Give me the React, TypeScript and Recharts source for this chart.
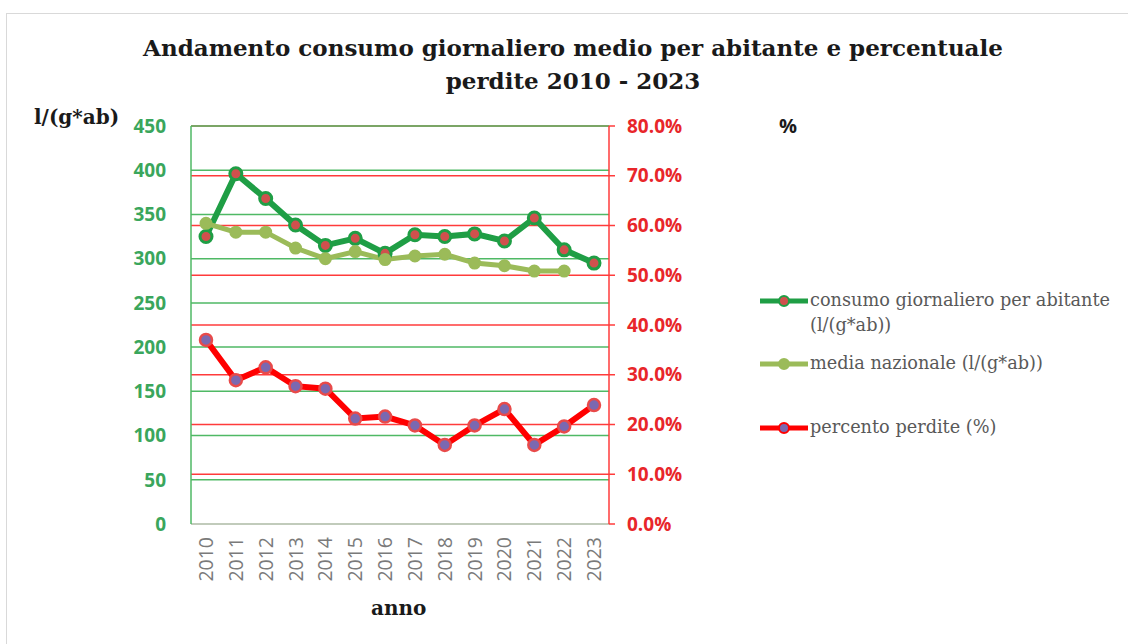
import React from 'react';
import { LineChart, Line, XAxis, YAxis, CartesianGrid } from 'recharts';

const years = ['2010', '2011', '2012', '2013', '2014', '2015', '2016', '2017', '2018', '2019', '2020', '2021', '2022', '2023'];
const consumo = [325, 396, 368, 338, 315, 323, 306, 327, 325, 328, 320, 346, 310, 295];
const mediaNazionale = [340, 330, 330, 312, 300, 308, 299, 303, 305, 295, 292, 286, 286, null];
const perdite = [37.0, 28.9, 31.5, 27.7, 27.2, 21.2, 21.6, 19.8, 15.9, 19.8, 23.1, 15.9, 19.6, 23.9];

const leftTicks = [0, 50, 100, 150, 200, 250, 300, 350, 400, 450];
const rightTicks = [0, 10, 20, 30, 40, 50, 60, 70, 80];

const data = years.map((anno, i) => ({
  anno,
  consumo: consumo[i],
  media: mediaNazionale[i],
  perdite: perdite[i],
}));

const GREEN = '#1f9e45';
const LIGHT_GREEN = '#9bbb59';
const RED = '#ff0000';
const AXIS_GREEN = '#3aa65c';
const AXIS_RED = '#e8262a';

const legendItems = [
  { label: ['consumo giornaliero per abitante', '(l/(g*ab))'], line: GREEN, dot: '#d0504d', top: 0 },
  { label: ['media nazionale (l/(g*ab))'], line: LIGHT_GREEN, dot: LIGHT_GREEN, top: 63 },
  { label: ['percento perdite (%)'], line: RED, dot: '#7b68b0', top: 127 },
];

const XTick = ({ x, y, payload }: any) => (
  <g transform={`translate(${x},${y + 5}) rotate(-90)`}>
    <text x={0} y={0} dy="0.36em" textAnchor="end" fill="#7a7a7a" fontSize={19.5} fontFamily="'Open Sans', sans-serif">
      {payload.value}
    </text>
  </g>
);

// legend drawn as plain html so it does not eat into the plot area
const ChartLegend = () => (
  <div style={{ position: 'absolute', left: 758, top: 288, width: 370, height: 160 }}>
    {legendItems.map((item) => (
      <div key={item.label[0]} style={{ position: 'absolute', left: 0, top: item.top, display: 'flex', alignItems: 'flex-start' }}>
        <svg width={52} height={20} style={{ marginTop: 3, flex: 'none' }}>
          <line x1={2} y1={10} x2={50} y2={10} stroke={item.line} strokeWidth={5} />
          <circle cx={26} cy={10} r={5} fill={item.dot} stroke={item.line} strokeWidth={2} />
        </svg>
        <div style={{ fontFamily: "'DejaVu Serif', serif", fontSize: 17.7, color: '#595959', lineHeight: '25px', whiteSpace: 'nowrap' }}>
          {item.label.map((l) => (
            <div key={l}>{l}</div>
          ))}
        </div>
      </div>
    ))}
  </div>
);

export default function App() {
  return (
    <div style={{ position: 'absolute', left: 0, top: 0, width: 1128, height: 644, background: '#fff', overflow: 'hidden' }}>
      <div style={{ position: 'absolute', left: 6, top: 13, width: 1130, height: 640, border: '1px solid #d9d9d9' }} />

      <div
        style={{
          position: 'absolute',
          left: 0,
          top: 31,
          width: 1146,
          textAlign: 'center',
          fontFamily: "'DejaVu Serif', serif",
          fontWeight: 'bold',
          fontSize: 23,
          lineHeight: '33px',
          color: '#1a1a1a',
        }}
      >
        Andamento consumo giornaliero medio per abitante e percentuale
        <br />
        perdite 2010 - 2023
      </div>

      <div style={{ position: 'absolute', left: 34, top: 105, fontFamily: "'DejaVu Serif', serif", fontWeight: 'bold', fontSize: 20, color: '#1a1a1a' }}>
        l/(g*ab)
      </div>
      <div style={{ position: 'absolute', left: 779, top: 112, fontFamily: "'Open Sans', sans-serif", fontWeight: 'bold', fontSize: 20, color: '#1a1a1a' }}>
        %
      </div>
      <div style={{ position: 'absolute', left: 371, top: 596, fontFamily: "'DejaVu Serif', serif", fontWeight: 'bold', fontSize: 20, color: '#1a1a1a' }}>
        anno
      </div>

      <ChartLegend />

      <LineChart width={1128} height={644} data={data} margin={{ top: 126, right: 429, left: 111, bottom: 50 }}>
        <CartesianGrid yAxisId="right" vertical={false} stroke="#ff3b3b" strokeWidth={1.5} horizontalValues={rightTicks} />
        <CartesianGrid yAxisId="left" vertical={false} stroke="#4fb965" strokeWidth={1.5} horizontalValues={leftTicks} />
        <XAxis
          dataKey="anno"
          interval={0}
          padding={{ left: 15, right: 15 }}
          height={70}
          tick={<XTick />}
          tickLine={false}
          axisLine={{ stroke: '#d9d9d9', strokeWidth: 1.5 }}
        />
        <YAxis
          yAxisId="left"
          domain={[0, 450]}
          ticks={leftTicks}
          width={80}
          tickLine={false}
          tickMargin={19}
          axisLine={{ stroke: '#4fb965', strokeWidth: 1.5 }}
          tick={{ fill: AXIS_GREEN, fontSize: 19, fontWeight: 'bold', fontFamily: "'Open Sans', sans-serif" }}
        />
        <YAxis
          yAxisId="right"
          orientation="right"
          domain={[0, 80]}
          ticks={rightTicks}
          width={90}
          tickSize={6}
          tickMargin={12}
          tickFormatter={(v: number) => `${v.toFixed(1)}%`}
          axisLine={{ stroke: '#ff3b3b', strokeWidth: 1.5 }}
          tickLine={{ stroke: '#ff3b3b', strokeWidth: 1.5 }}
          tick={{ fill: AXIS_RED, fontSize: 19, fontWeight: 'bold', fontFamily: "'Open Sans', sans-serif" }}
        />
        <Line
          yAxisId="left"
          dataKey="consumo"
          name="consumo giornaliero per abitante (l/(g*ab))"
          stroke={GREEN}
          strokeWidth={6}
          dot={{ r: 6, fill: '#d0504d', stroke: GREEN, strokeWidth: 3 }}
          isAnimationActive={false}
        />
        <Line
          yAxisId="left"
          dataKey="media"
          name="media nazionale (l/(g*ab))"
          stroke={LIGHT_GREEN}
          strokeWidth={5}
          dot={{ r: 5.5, fill: LIGHT_GREEN, stroke: LIGHT_GREEN, strokeWidth: 2 }}
          isAnimationActive={false}
        />
        <Line
          yAxisId="right"
          dataKey="perdite"
          name="percento perdite (%)"
          stroke={RED}
          strokeWidth={6}
          dot={{ r: 6, fill: '#7b68b0', stroke: '#e84a4a', strokeWidth: 2.5 }}
          isAnimationActive={false}
        />
      </LineChart>
    </div>
  );
}
